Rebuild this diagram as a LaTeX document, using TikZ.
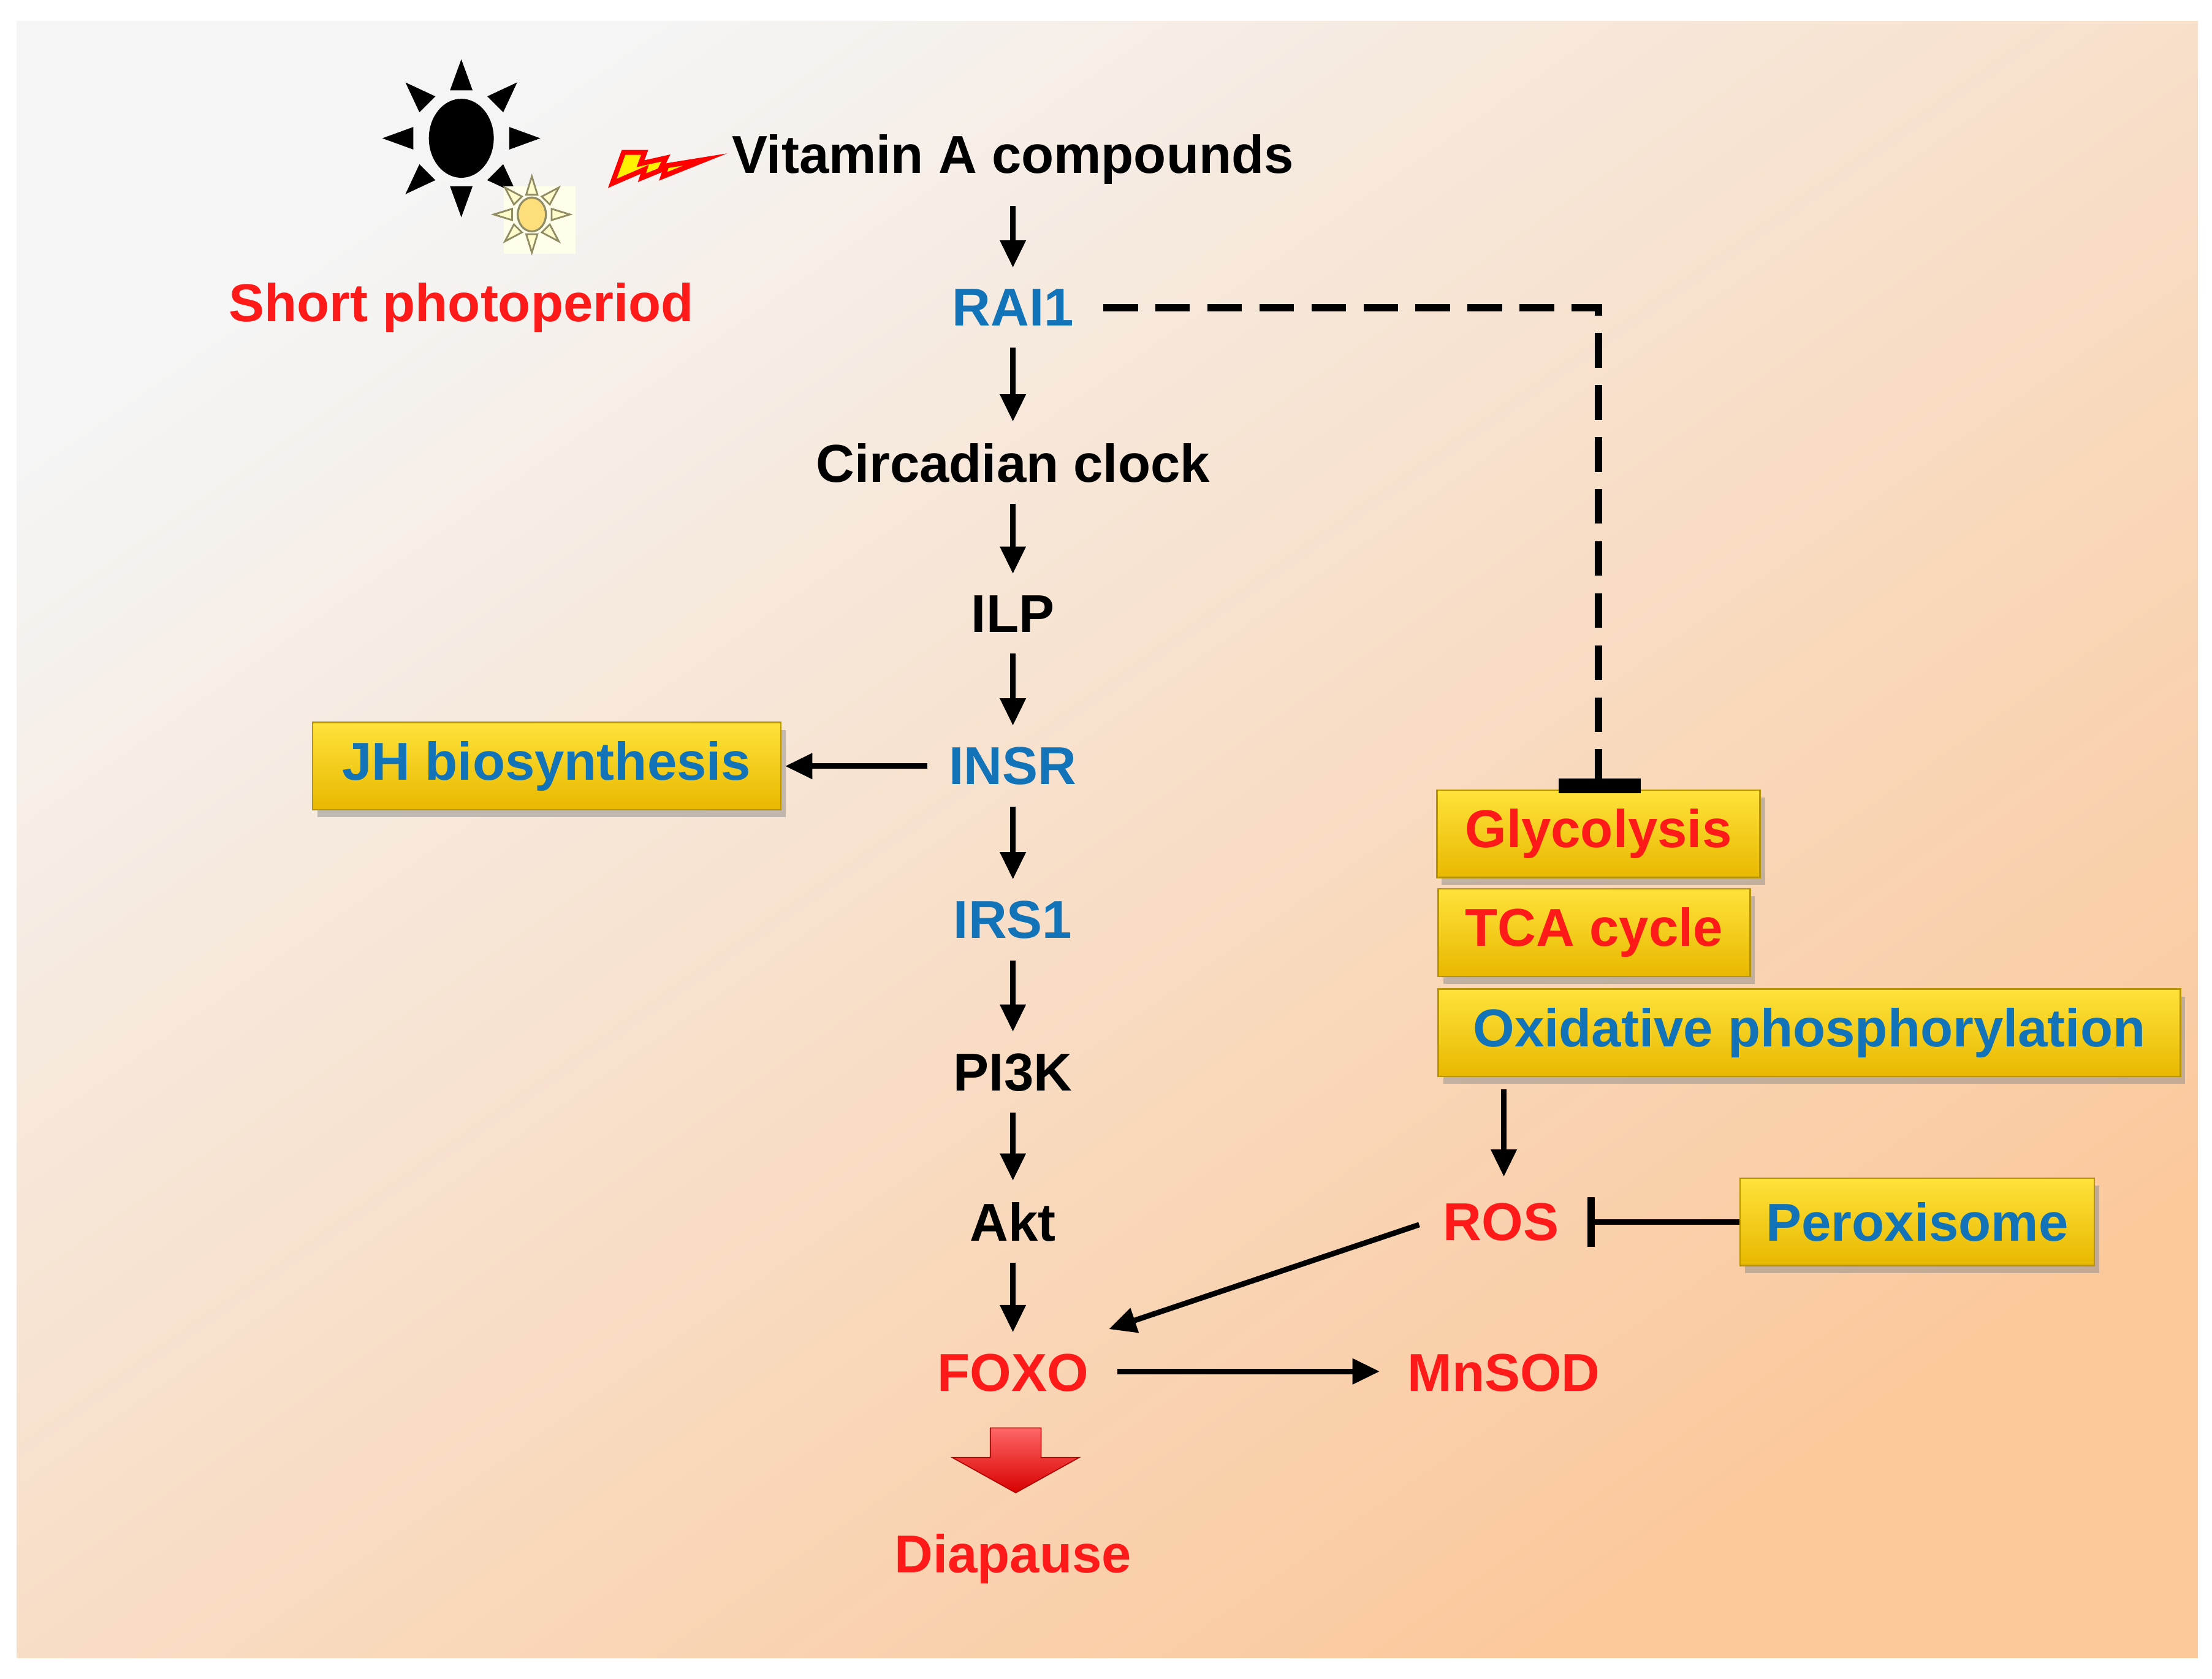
\documentclass[tikz,border=0pt]{standalone}
\usepackage{fontspec}
\setmainfont{Liberation Sans}
\usetikzlibrary{arrows.meta,shadows,shapes.geometric,shapes.arrows,calc}
\definecolor{myblue}{HTML}{1273B8}
\definecolor{myred}{HTML}{FF1A1A}
\definecolor{goldtop}{HTML}{FFE23A}
\definecolor{goldbot}{HTML}{E8B800}
\definecolor{golddraw}{HTML}{B89400}
\begin{document}
\begin{tikzpicture}[x=0.02cm,y=-0.02cm,
  lbl/.style={font=\fontsize{21.5}{24}\selectfont\bfseries,inner sep=0pt},
  box/.style={lbl,draw=golddraw,line width=0.6pt,top color=goldtop,bottom color=goldbot,
     drop shadow={shadow xshift=2pt,shadow yshift=-3pt,fill=black!45,opacity=0.5},anchor=west,minimum height=1.24cm,inner xsep=0.3cm},
  ar/.style={-{Triangle[length=11pt,width=10pt]},line width=2.2pt},
  inh/.style={-{Bar[width=20pt,line width=3pt]},line width=2.2pt}]
\useasboundingbox (0,0) rectangle (1568,1190);
\fill[white] (0,0) rectangle (1568,1190);
\shade[shading=axis,top color=black!4,bottom color={rgb,255:red,251;green,200;blue,155},shading angle=35] (12,15) rectangle (1558,1175);
% sun
\fill[black] (327,98) ellipse (23 and 28);
\foreach \a in {0,45,...,315}{
  \fill[black,rotate around={\a:(327,98)}] ($(327,98)+(-8,-34)$) -- ($(327,98)+(8,-34)$) -- ($(327,98)+(0,-56)$) -- cycle;}
\fill[yellow!8] (357,132) rectangle (408,180);
\fill[yellow!55!orange!50,draw=black!50!yellow!60!gray,line width=0.8pt] (377,152) ellipse (10 and 12);
\foreach \a in {0,45,...,315}{
  \filldraw[fill=yellow!20,draw=black!50!yellow!60!gray,line width=0.7pt,rotate around={\a:(377,152)}] ($(377,152)+(-4,-14)$) -- ($(377,152)+(4,-14)$) -- ($(377,152)+(0,-27)$) -- cycle;}
% bolt
\filldraw[fill=yellow,draw=red,line width=2pt,line join=miter] (434,130) -- (442,108) -- (457,108) -- (454,116) -- (472,112) -- (469,118) -- (500,113) -- (470,125) -- (472,119) -- (455,126) -- (457,120) -- cycle;
% main chain
\node[lbl] (vit) at (718,113) {Vitamin A compounds};
\node[lbl,text=myblue] (rai) at (718,218) {RAI1};
\node[lbl] (cir) at (718,328) {Circadian clock};
\node[lbl] (ilp) at (718,435) {ILP};
\node[lbl,text=myblue] (insr) at (718,543) {INSR};
\node[lbl,text=myblue] (irs) at (718,652) {IRS1};
\node[lbl] (pi3k) at (718,760) {PI3K};
\node[lbl] (akt) at (718,866) {Akt};
\node[lbl,text=myred] (foxo) at (718,973) {FOXO};
\node[lbl,text=myred] (dia) at (718,1105) {Diapause};
\node[lbl,text=myred] (sp) at (327,218) {Short photoperiod};
\foreach \a/\b in {vit/rai,rai/cir,cir/ilp,ilp/insr,insr/irs,irs/pi3k,pi3k/akt,akt/foxo}
  \draw[ar] ([yshift=-0.3cm]\a.south) -- ([yshift=0.3cm]\b.north);
% big red arrow
\shade[top color=red!60!white,bottom color=red!85!black,draw=red!70!black,line width=0.4pt]
  (702,1012) -- (738,1012) -- (738,1033) -- (765,1033) -- (720,1058) -- (675,1033) -- (702,1033) -- cycle;
% boxes
\node[box,text=myblue,minimum width=332*0.02cm] (jh) at (221,543) {JH biosynthesis};
\node[box,text=myred,minimum width=229*0.02cm] (gly) at (1018,591) {Glycolysis};
\node[box,text=myred,minimum width=221*0.02cm] (tca) at (1019,661) {TCA cycle};
\node[box,text=myblue,minimum width=526*0.02cm] (oxp) at (1019,732) {Oxidative phosphorylation};
\node[box,text=myblue,minimum width=251*0.02cm] (per) at (1233,866) {Peroxisome};
\node[lbl,text=myred] (ros) at (1064,866) {ROS};
\node[lbl,text=myred] (mn) at (1066,973) {MnSOD};
\coordinate (corner) at (1133,218);
\draw[line width=3pt,dash pattern=on 14pt off 7pt] (782,218) -- (corner) -- (1133,552);
\draw[line width=6pt] (1105,557) -- (1163,557);
\draw[ar] ([xshift=-0.3cm]insr.west) -- ([xshift=0.05cm]jh.east);
\draw[ar] (1066,772) -- (1066,834);
\draw[inh] (per.west) -- ([xshift=0.4cm]ros.east);
\draw[ar] (1006,868) -- (786,942);
\draw[ar] (792,972) -- (978,972);
\end{tikzpicture}
\end{document}
